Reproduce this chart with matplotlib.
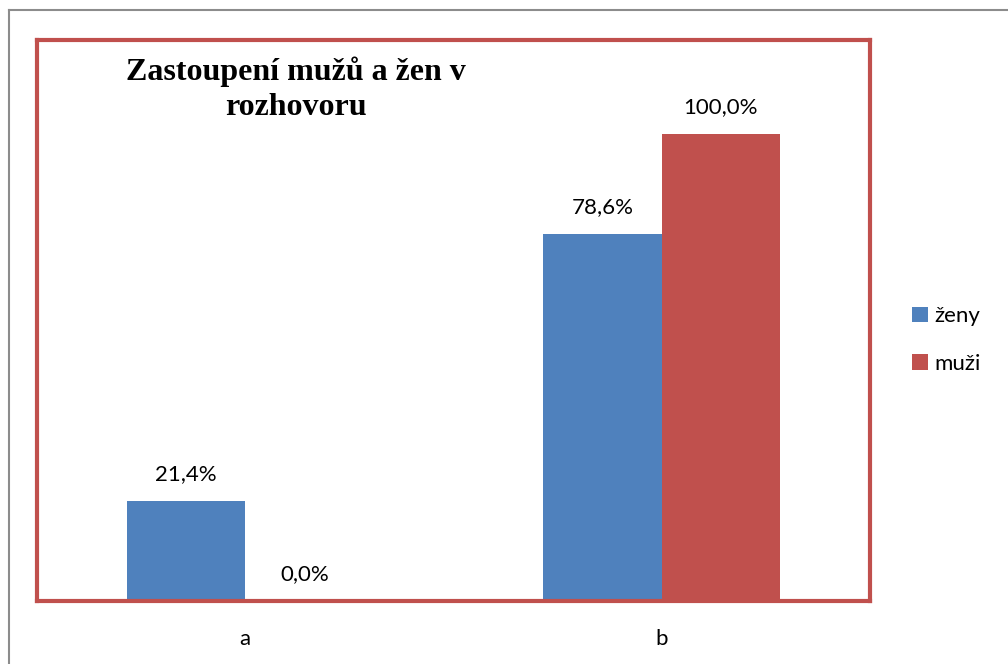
import matplotlib.pyplot as plt
import matplotlib as mpl
from matplotlib.lines import Line2D
import numpy as np

mpl.rcParams['font.family'] = ['Lato', 'DejaVu Sans']

categories = ['a', 'b']
zeny = [21.4, 78.6]
muzi = [0.0, 100.0]
series_names = ['ženy', 'muži']
title = 'Zastoupení mužů a žen v\nrozhovoru'

blue = '#4F81BD'
red = '#C0504D'

fig = plt.figure(figsize=(10.08, 6.64), dpi=100)
ax = fig.add_axes([37 / 1008, 1 - 601 / 664, (870 - 37) / 1008, (601 - 40) / 664])

x = np.arange(len(categories))
w = 0.284
b1 = ax.bar(x - w / 2, zeny, w, color=blue, label=series_names[0], zorder=2)
b2 = ax.bar(x + w / 2, muzi, w, color=red, label=series_names[1], zorder=2)

for bars, vals in ((b1, zeny), (b2, muzi)):
    for rect, v in zip(bars, vals):
        ax.text(rect.get_x() + rect.get_width() / 2, v + 3.6, f'{v:.1f}%'.replace('.', ','),
                ha='center', va='bottom', fontsize=16)

ax.set_xlim(-0.5, 1.5)
ax.set_ylim(0, 120)
ax.set_yticks([])
ax.set_xticks(x)
ax.set_xticklabels(categories, fontsize=16)
ax.tick_params(axis='x', length=0, pad=20)

for spine in ax.spines.values():
    spine.set_color(red)
    spine.set_linewidth(3)
    spine.set_zorder(3)

# title inside the plot area, like the original
fig.text(296 / 1008, 1 - 89 / 664, title, ha='center', va='center',
         fontsize=23, fontweight='bold', family='Liberation Serif', linespacing=1.28)

leg = fig.legend(handles=[b1, b2], loc='center left', bbox_to_anchor=(892 / 1008, 1 - 340 / 664),
                 frameon=False, fontsize=16, handlelength=0.7, handleheight=0.7,
                 handletextpad=0.3, labelspacing=1.25)

# grey outer frame (only top and left visible in the original)
fig.add_artist(Line2D([8.5 / 1008, 8.5 / 1008], [0, 1 - 9.5 / 664], transform=fig.transFigure,
                      color='#8c8c8c', lw=1.5))
fig.add_artist(Line2D([8.5 / 1008, 1], [1 - 9.5 / 664, 1 - 9.5 / 664], transform=fig.transFigure,
                      color='#8c8c8c', lw=1.5))

plt.savefig('out.png', dpi=100)
plt.close()
